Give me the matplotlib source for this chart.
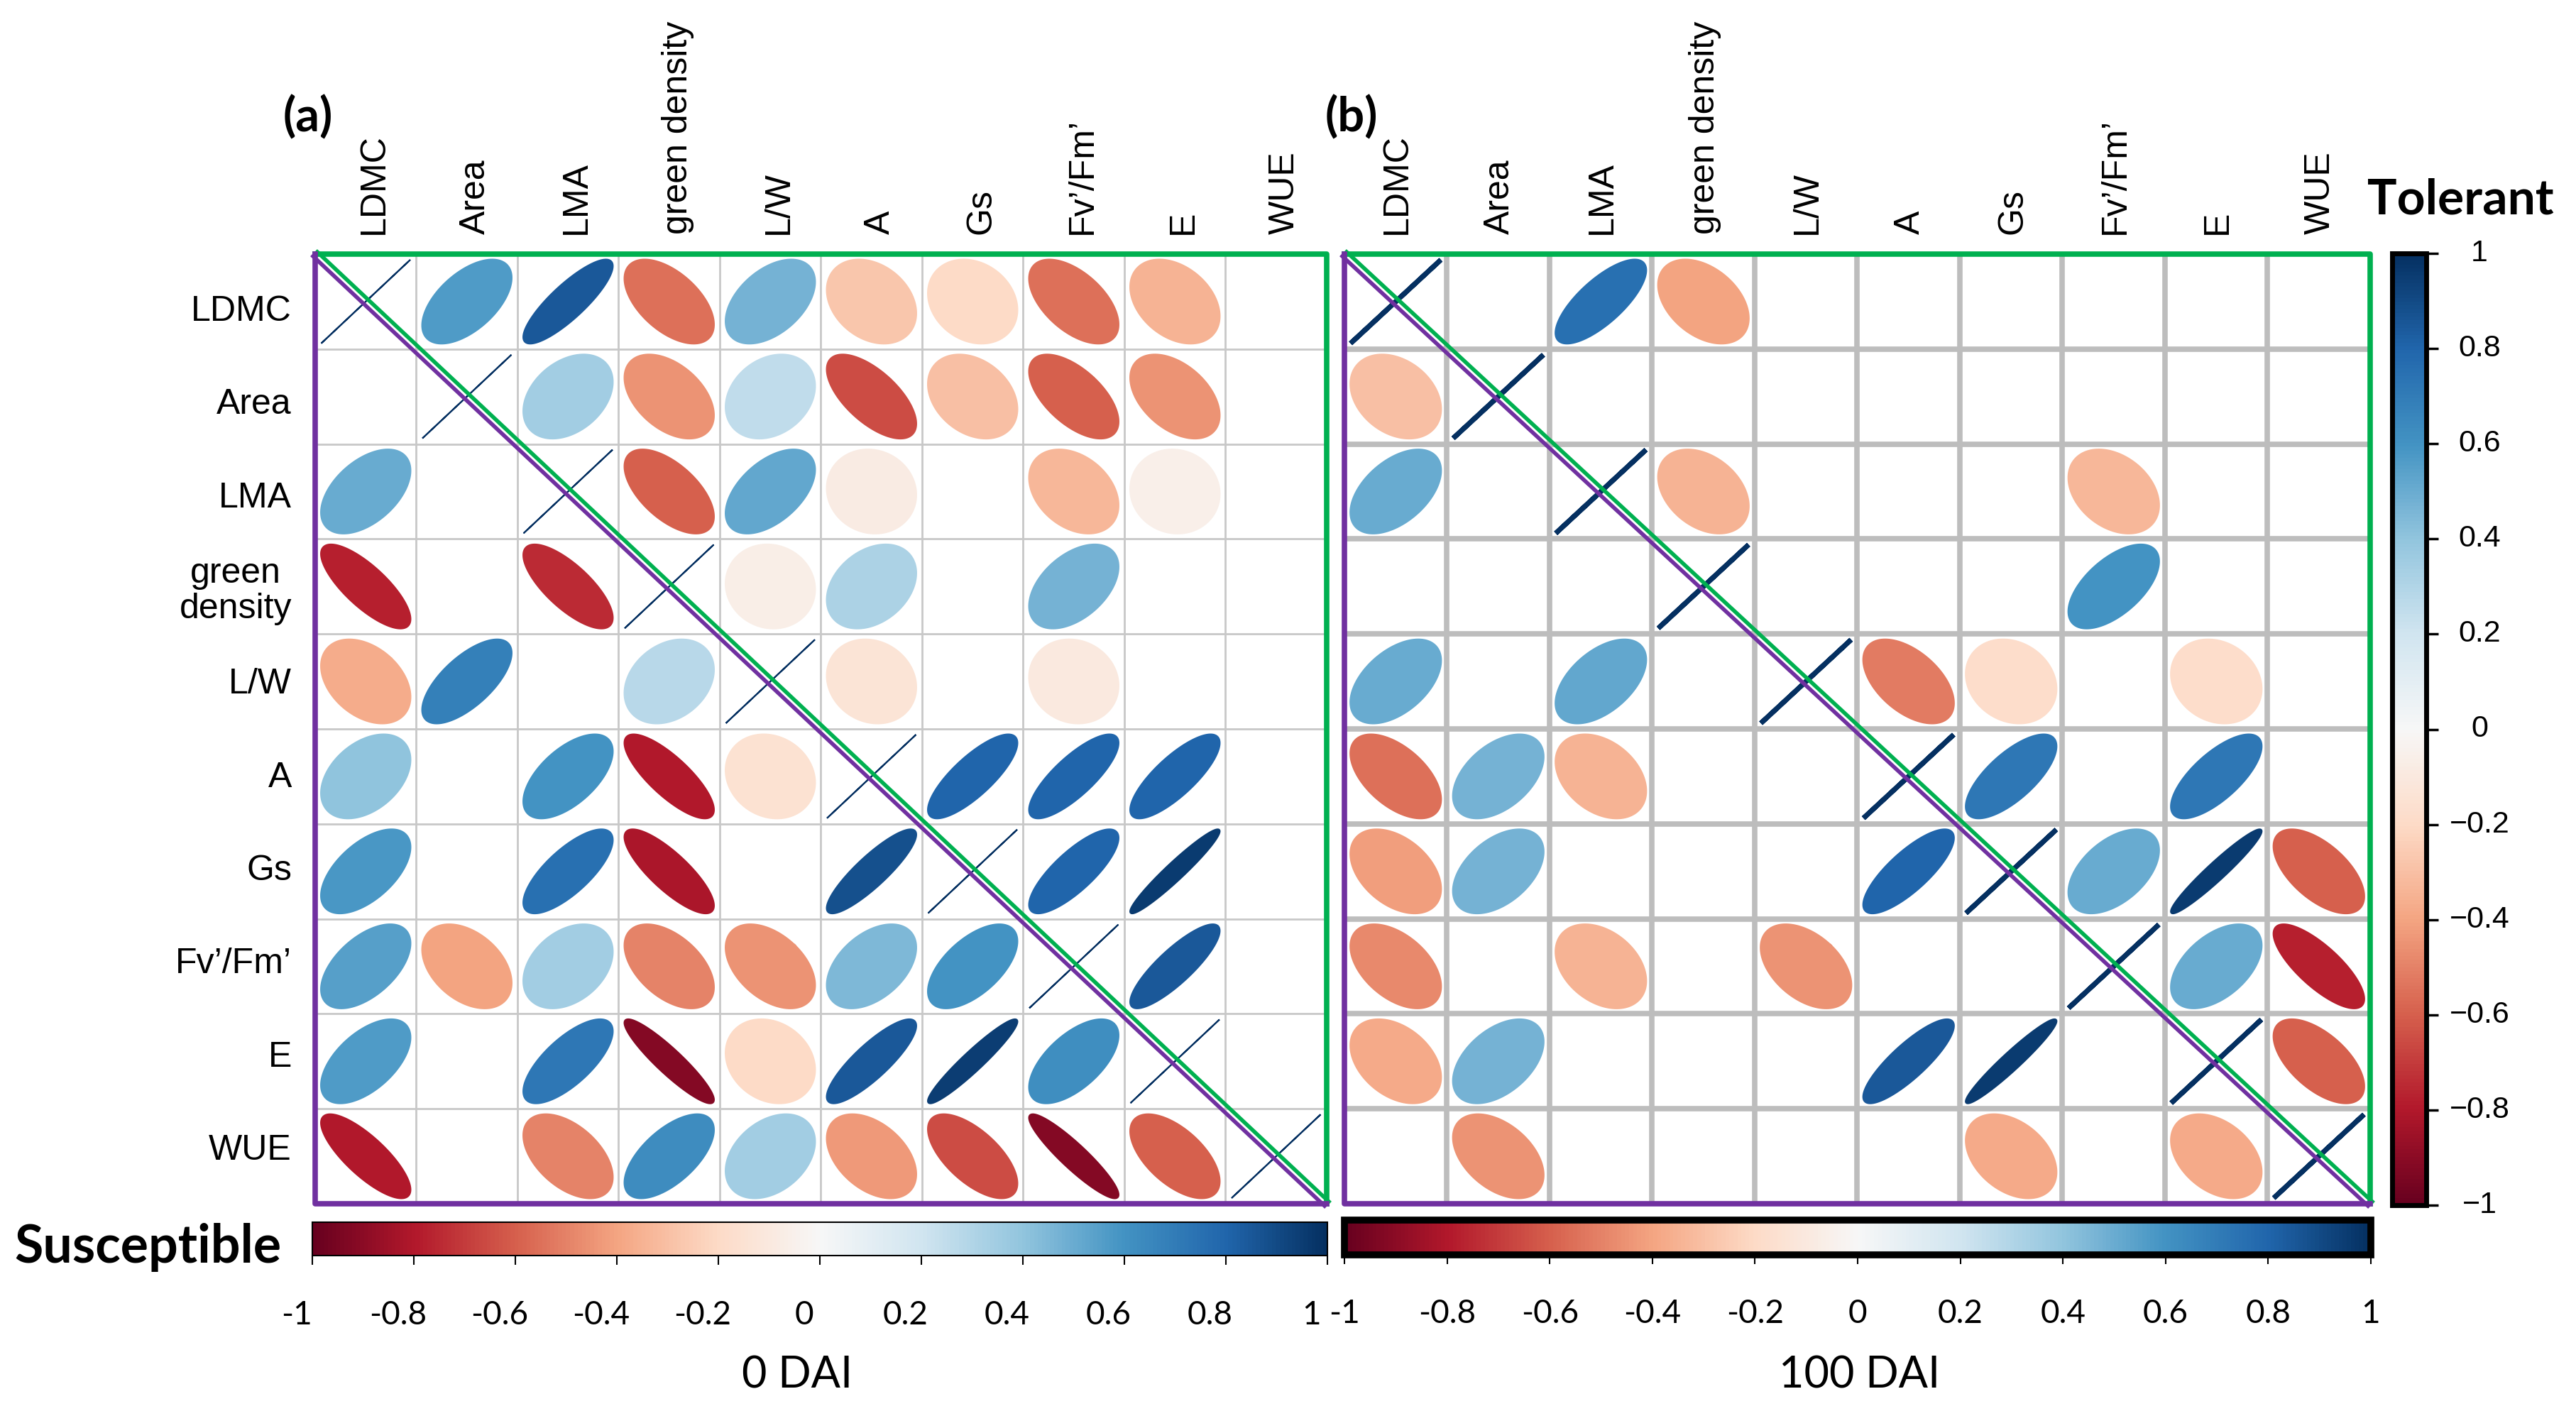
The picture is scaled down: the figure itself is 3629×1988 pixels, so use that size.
import numpy as np
import matplotlib.pyplot as plt
from matplotlib.patches import Polygon
from matplotlib import transforms, cm
import matplotlib.colors as mcolors

W, H = 3630, 1988
NA = np.nan

labels = ["LDMC", "Area", "LMA", "green density", "L/W", "A", "Gs", "Fv\u2019/Fm\u2019", "E", "WUE"]
row_labels = ["LDMC", "Area", "LMA", "green\ndensity", "L/W", "A", "Gs", "Fv\u2019/Fm\u2019", "E", "WUE"]

# 0 DAI correlations (upper = tolerant, lower = susceptible), NaN = not significant
corr_0dai = [
    [1, .57, .85, -.55, .47, -.28, -.2, -.55, -.35, NA],
    [NA, 1, .35, -.45, .25, -.65, -.3, -.6, -.45, NA],
    [.5, NA, 1, -.6, .52, -.08, NA, -.33, -.06, NA],
    [-.78, NA, -.75, 1, -.07, .32, NA, .47, NA, NA],
    [-.37, .68, NA, .28, 1, -.14, NA, -.1, NA, NA],
    [.4, NA, .6, -.8, -.15, 1, .8, .8, .8, NA],
    [.58, NA, .75, -.82, NA, .88, 1, .8, .96, NA],
    [.55, -.4, .35, -.5, -.45, .45, .6, 1, .85, NA],
    [.57, NA, .72, -.92, -.2, .85, .95, .62, 1, NA],
    [-.8, NA, -.5, .63, .35, -.43, -.65, -.92, -.6, 1],
]

# 100 DAI correlations
corr_100dai = [
    [1, NA, .75, -.4, NA, NA, NA, NA, NA, NA],
    [-.3, 1, NA, NA, NA, NA, NA, NA, NA, NA],
    [.5, NA, 1, -.35, NA, NA, NA, -.33, NA, NA],
    [NA, NA, NA, 1, NA, NA, NA, .6, NA, NA],
    [.5, NA, .52, NA, 1, -.52, -.18, NA, -.18, NA],
    [-.55, .47, -.35, NA, NA, 1, .72, NA, .72, NA],
    [-.42, .47, NA, NA, NA, .8, 1, .5, .96, -.6],
    [-.48, NA, -.35, NA, -.45, NA, NA, 1, .5, -.78],
    [-.38, .47, NA, NA, NA, .85, .96, NA, 1, -.6],
    [NA, -.45, NA, NA, NA, NA, -.38, NA, -.38, 1],
]

cbar_ticks = np.round(np.linspace(-1, 1, 11), 1)

GREEN = "#00b050"
PURPLE = "#7030a0"
cmap = plt.get_cmap("RdBu")
norm = mcolors.Normalize(-1, 1)


def fbox(x0, y0, x1, y1):
    return [x0 / W, 1 - y1 / H, (x1 - x0) / W, (y1 - y0) / H]


def fmt(v):
    return "0" if v == 0 else "%g" % v


fig = plt.figure(figsize=(W / 100, H / 100), dpi=100)


def draw_panel(ax, mat, grid_color, grid_lw, diag_lw):
    n = len(labels)
    ax.set_xlim(0, n)
    ax.set_ylim(n, 0)
    ax.axis("off")
    for k in range(1, n):
        ax.axhline(k, color=grid_color, lw=grid_lw, zorder=1)
        ax.axvline(k, color=grid_color, lw=grid_lw, zorder=1)
    t = np.linspace(0, 2 * np.pi, 120)
    for i in range(n):
        for j in range(n):
            r = mat[i][j]
            if np.isnan(r):
                continue
            d = np.arccos(np.clip(r, -1, 1))
            xs = j + 0.5 + 0.44 * np.cos(t + d / 2)
            ys = i + 0.5 - 0.44 * np.cos(t - d / 2)
            c = cmap(norm(r))
            lw = diag_lw if i == j else 2.2
            ax.add_patch(Polygon(np.column_stack([xs, ys]), closed=True,
                                 fc=c, ec=c, lw=lw, zorder=2))
    up = transforms.offset_copy(ax.transData, fig=fig, x=3, y=3, units="dots")
    down = transforms.offset_copy(ax.transData, fig=fig, x=-3, y=-3, units="dots")
    ax.plot([0, n, n], [0, 0, n], color=GREEN, lw=5.5, clip_on=False, zorder=4)
    ax.plot([0, n], [0, n], color=GREEN, lw=4, clip_on=False, zorder=4, transform=up)
    ax.plot([0, 0, n], [0, n, n], color=PURPLE, lw=5.5, clip_on=False, zorder=4)
    ax.plot([0, n], [0, n], color=PURPLE, lw=4, clip_on=False, zorder=4, transform=down)


ax_a = fig.add_axes(fbox(444, 358, 1869, 1696))
ax_b = fig.add_axes(fbox(1894, 358, 3339, 1696))
draw_panel(ax_a, corr_0dai, "#c8c8c8", 2, 1.5)
draw_panel(ax_b, corr_100dai, "#bdbdbd", 5.5, 5)

# column labels
for x0, x1, dx in [(444, 1869, 12), (1894, 3339, 2)]:
    cw = (x1 - x0) / len(labels)
    for j, lab in enumerate(labels):
        fig.text((x0 + dx + cw * (j + 0.5)) / W, 1 - 330 / H, lab, rotation=90,
                 ha="center", va="bottom", fontsize=36, family="Liberation Sans")

# row labels (evenly spread, as in the original)
row_y = np.linspace(439, 1621, len(row_labels))
for y, lab in zip(row_y, row_labels):
    fig.text(411 / W, 1 - y / H, lab, ha="right", va="center",
             multialignment="center", fontsize=36, family="Liberation Sans", linespacing=1.1)

# horizontal colorbars
for box, olw, title, tx, shift in [((440, 1722, 1870, 1769), 1.5, "0 DAI", 1123, -22),
                                   ((1894, 1719, 3340, 1768), 7, "100 DAI", 2620, 0)]:
    cax = fig.add_axes(fbox(*box))
    cb = fig.colorbar(cm.ScalarMappable(norm=norm, cmap=cmap), cax=cax,
                      orientation="horizontal", ticks=cbar_ticks)
    cb.outline.set_linewidth(olw)
    cb.set_ticklabels([fmt(v) for v in cbar_ticks])
    cax.tick_params(axis="x", direction="out", length=9, width=1.5, pad=36,
                    labelsize=33)
    off = transforms.ScaledTranslation(shift / 100, 0, fig.dpi_scale_trans)
    for lab in cax.get_xticklabels():
        lab.set_family("Lato")
        lab.set_transform(lab.get_transform() + off)
    fig.text(tx / W, 1 - 1938 / H, title, ha="center", va="center",
             fontsize=44, family="Lato")

# vertical colorbar
vax = fig.add_axes(fbox(3370, 357, 3418, 1698))
vcb = fig.colorbar(cm.ScalarMappable(norm=norm, cmap=cmap), cax=vax,
                   orientation="vertical", ticks=cbar_ticks)
vcb.outline.set_linewidth(5)
vax.tick_params(axis="y", direction="out", length=12, width=2.5, labelright=False)
blend = transforms.blended_transform_factory(fig.transFigure, vax.transData)
for v in cbar_ticks:
    fig.text(3493 / W, v, fmt(v).replace("-", "\u2212"), transform=blend,
             ha="center", va="center", fontsize=31, family="Liberation Sans")

fig.text(434 / W, 1 - 166 / H, "(a)", ha="center", va="center", fontsize=48,
         fontweight="bold", family="Lato")
fig.text(1904 / W, 1 - 166 / H, "(b)", ha="center", va="center", fontsize=48,
         fontweight="bold", family="Lato")
fig.text(3466 / W, 1 - 282 / H, "Tolerant", ha="center", va="center", fontsize=50,
         fontweight="bold", family="Lato")
fig.text(208 / W, 1 - 1757 / H, "Susceptible", ha="center", va="center", fontsize=53,
         fontweight="bold", family="Lato")

fig.savefig("out.png", dpi=100)
